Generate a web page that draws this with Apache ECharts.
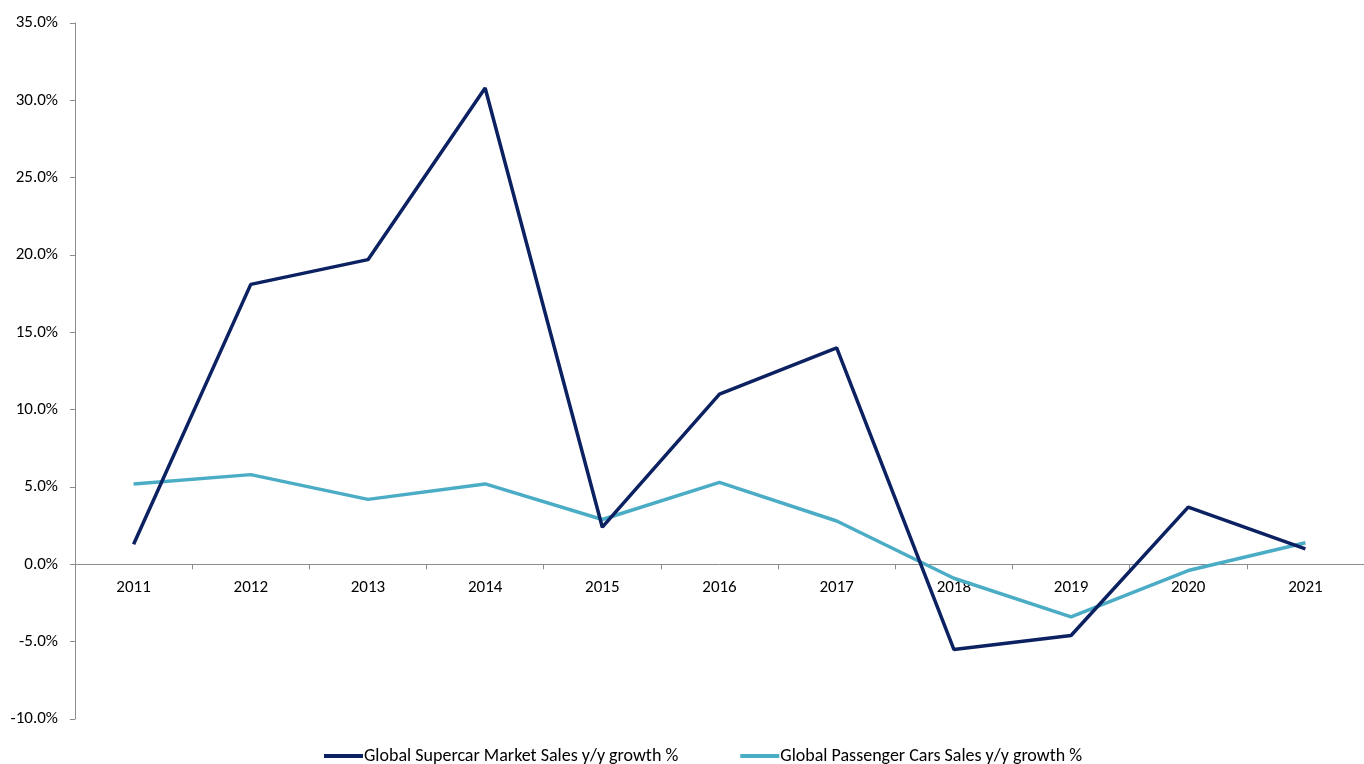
<!DOCTYPE html>
<html>
<head>
<meta charset="utf-8">
<script src="https://cdn.jsdelivr.net/npm/echarts@6/dist/echarts.min.js"></script>
<style>
  html, body { margin: 0; padding: 0; background: #fff; }
  #chart { width: 1364px; height: 764px; }
</style>
</head>
<body>
<div id="chart"></div>
<script>
// Year-over-year growth, in percent
const years = ['2011', '2012', '2013', '2014', '2015', '2016', '2017', '2018', '2019', '2020', '2021'];
const supercarGrowth = [1.3, 18.1, 19.7, 30.8, 2.4, 11.0, 14.0, -5.5, -4.6, 3.7, 1.0];
const passengerGrowth = [5.2, 5.8, 4.2, 5.2, 2.9, 5.3, 2.8, -0.9, -3.4, -0.4, 1.4];
const seriesNames = ['Global Supercar Market Sales y/y growth %', 'Global Passenger Cars Sales y/y growth %'];
const Y_MIN = -10, Y_MAX = 35;

const FONT = 'Carlito, Lato, "Liberation Sans", sans-serif';
const AXIS_GREY = '#8c8c8c';
const GRID_TOP = 23, GRID_BOTTOM = 45, HEIGHT = 764;

// The category axis sits on the zero line; shift the whole axis (line, ticks, labels) up to it.
const plotH = HEIGHT - GRID_TOP - GRID_BOTTOM;
const zeroShift = plotH * (0 - Y_MIN) / (Y_MAX - Y_MIN);

const chart = echarts.init(document.getElementById('chart'));
chart.setOption({
  animation: false,
  textStyle: { fontFamily: FONT },
  grid: { left: 75, right: -8, top: GRID_TOP, bottom: GRID_BOTTOM, containLabel: false },
  legend: {
    top: 742,
    left: 319,
    itemWidth: 39,
    itemHeight: 4,
    itemGap: 62,
    icon: 'rect',
    textStyle: { fontFamily: FONT, fontSize: 18, color: '#000', padding: [0, 0, 0, -4] },
    data: seriesNames
  },
  xAxis: {
    type: 'category',
    data: years,
    boundaryGap: true,
    offset: -zeroShift,
    axisLine: { onZero: false, lineStyle: { color: AXIS_GREY, width: 1 } },
    axisTick: { show: true, length: 5, lineStyle: { color: AXIS_GREY } },
    axisLabel: { color: '#000', fontSize: 17, fontFamily: FONT, margin: 15 },
    splitLine: { show: false }
  },
  yAxis: {
    type: 'value',
    min: Y_MIN,
    max: Y_MAX,
    interval: 5,
    axisLine: { show: true, lineStyle: { color: AXIS_GREY, width: 1 } },
    axisTick: { show: true, length: 5, lineStyle: { color: AXIS_GREY } },
    axisLabel: {
      color: '#000', fontSize: 17, fontFamily: FONT, margin: 17,
      formatter: v => v.toFixed(1) + '%'
    },
    splitLine: { show: false }
  },
  series: [
    {
      name: seriesNames[0],
      type: 'line',
      data: supercarGrowth,
      symbol: 'none',
      lineStyle: { color: '#0b2161', width: 3.5 },
      itemStyle: { color: '#0b2161' },
      z: 3
    },
    {
      name: seriesNames[1],
      type: 'line',
      data: passengerGrowth,
      symbol: 'none',
      lineStyle: { color: '#4bacc6', width: 3.5 },
      itemStyle: { color: '#4bacc6' },
      z: 2
    }
  ]
});
</script>
</body>
</html>
